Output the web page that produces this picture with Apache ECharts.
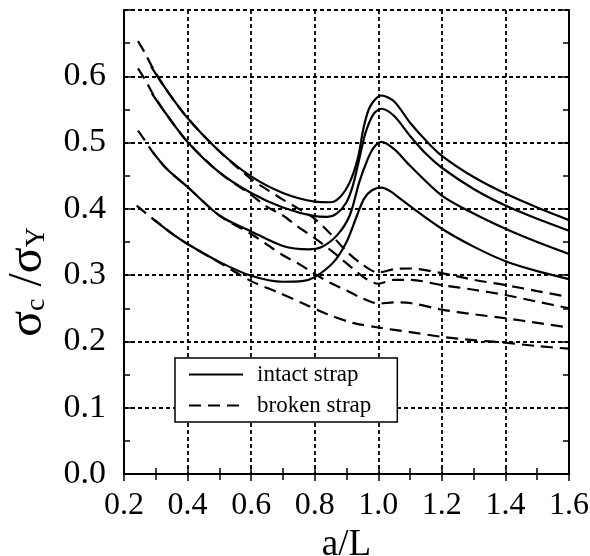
<!DOCTYPE html>
<html><head><meta charset="utf-8">
<script src="https://cdn.jsdelivr.net/npm/echarts@6/dist/echarts.min.js"></script>
<style>html,body{margin:0;padding:0;background:#fff}#c{width:590px;height:556px}</style>
</head><body><div id="c"></div>
<script>
const seriesNames = ['intact strap', 'broken strap'];
const xTickLabels = ['0.2', '0.4', '0.6', '0.8', '1.0', '1.2', '1.4', '1.6'];
const yTickLabels = ['0.0', '0.1', '0.2', '0.3', '0.4', '0.5', '0.6', ''];

// intact strap (solid)
const intact1 = [[0.285,0.615],[0.33,0.582],[0.4,0.537],[0.5,0.487],[0.6,0.449],[0.7,0.424],[0.8,0.411],[0.85,0.41],[0.88,0.418],[0.91,0.44],[0.935,0.475],[0.955,0.525],[0.975,0.555],[1.01,0.571],[1.05,0.562],[1.1,0.53],[1.15,0.503],[1.2,0.48],[1.3,0.448],[1.4,0.423],[1.5,0.402],[1.6,0.383]];
const intact2 = [[0.288,0.574],[0.33,0.545],[0.4,0.501],[0.5,0.455],[0.6,0.424],[0.7,0.402],[0.8,0.389],[0.84,0.388],[0.87,0.393],[0.9,0.41],[0.92,0.435],[0.94,0.475],[0.96,0.515],[0.985,0.543],[1.01,0.551],[1.05,0.54],[1.1,0.51],[1.15,0.483],[1.2,0.462],[1.3,0.43],[1.4,0.405],[1.5,0.385],[1.6,0.367]];
const intact3 = [[0.29,0.486],[0.335,0.46],[0.4,0.433],[0.5,0.39],[0.6,0.366],[0.7,0.344],[0.78,0.339],[0.82,0.342],[0.87,0.36],[0.91,0.39],[0.94,0.44],[0.965,0.473],[0.985,0.492],[1.01,0.501],[1.05,0.49],[1.1,0.465],[1.2,0.42],[1.3,0.393],[1.4,0.37],[1.5,0.35],[1.6,0.332]];
const intact4 = [[0.291,0.385],[0.35,0.363],[0.4,0.347],[0.5,0.32],[0.6,0.299],[0.7,0.29],[0.76,0.291],[0.8,0.297],[0.86,0.32],[0.9,0.35],[0.933,0.39],[0.955,0.415],[0.98,0.428],[1.01,0.432],[1.04,0.426],[1.07,0.415],[1.1,0.404],[1.2,0.37],[1.3,0.343],[1.4,0.321],[1.5,0.306],[1.6,0.294]];

// broken strap (dashed)
const broken1 = [[0.244,0.653],[0.266,0.635],[0.29,0.613],[0.33,0.582],[0.4,0.537],[0.5,0.487],[0.6,0.445],[0.65,0.429],[0.7,0.414],[0.75,0.4],[0.8,0.385],[0.85,0.362],[0.9,0.336],[0.95,0.316],[1.0,0.304],[1.05,0.309],[1.1,0.31],[1.2,0.303],[1.3,0.293],[1.4,0.285],[1.5,0.276],[1.6,0.267]];
const broken2 = [[0.244,0.612],[0.27,0.592],[0.29,0.574],[0.33,0.545],[0.4,0.501],[0.5,0.455],[0.6,0.421],[0.65,0.403],[0.7,0.39],[0.75,0.372],[0.8,0.356],[0.865,0.332],[0.92,0.31],[0.96,0.295],[1.0,0.287],[1.05,0.293],[1.1,0.293],[1.2,0.285],[1.3,0.278],[1.4,0.27],[1.5,0.26],[1.6,0.25]];
const broken3 = [[0.244,0.518],[0.266,0.503],[0.29,0.486],[0.335,0.46],[0.4,0.433],[0.5,0.39],[0.6,0.362],[0.65,0.346],[0.7,0.33],[0.75,0.317],[0.8,0.302],[0.85,0.288],[0.9,0.277],[0.95,0.265],[1.0,0.257],[1.05,0.259],[1.1,0.258],[1.2,0.248],[1.3,0.241],[1.4,0.235],[1.5,0.228],[1.6,0.221]];
const broken4 = [[0.24,0.405],[0.27,0.393],[0.291,0.385],[0.35,0.363],[0.4,0.347],[0.5,0.319],[0.6,0.291],[0.68,0.275],[0.76,0.258],[0.84,0.241],[0.92,0.228],[1.0,0.221],[1.1,0.214],[1.2,0.207],[1.3,0.202],[1.4,0.198],[1.5,0.193],[1.6,0.189]];

const FONT = 'Liberation Serif';
const frame = {show: true, lineStyle: {color: '#000', width: 2}};
const tick = {show: true, inside: true, length: 7, lineStyle: {color: '#000', width: 1.5}};
const minor = {show: true, splitNumber: 2, length: 6, lineStyle: {color: '#000', width: 1.5}};
const grid = {show: true, lineStyle: {color: '#000', width: 1.8, type: [4, 3]}};

function mk(name, data, dashed) {
  return {
    name: name, type: 'line', data: data, smooth: 0.3,
    symbol: 'none', showSymbol: false,
    lineStyle: {color: '#000', width: 2.2, type: dashed ? [12, 7] : 'solid'},
    itemStyle: {color: '#000'}
  };
}

const chart = echarts.init(document.getElementById('c'));
chart.setOption({
  animation: false,
  backgroundColor: '#fff',
  grid: {left: 124, right: 21, top: 10, bottom: 82, containLabel: false, outerBoundsMode: 'none'},
  legend: {
    data: seriesNames, orient: 'vertical', left: 175, top: 358,
    itemWidth: 54, itemHeight: 20, itemGap: 8,
    padding: [5, 26, 5, 13],
    backgroundColor: '#fff', borderColor: '#000', borderWidth: 1.5, borderRadius: 0,
    itemStyle: {opacity: 0},
    textStyle: {fontFamily: FONT, fontSize: 23, color: '#000', padding: [0, 0, 0, 9]}
  },
  xAxis: [{
    type: 'value', min: 0.2, max: 1.6, interval: 0.2, position: 'bottom',
    axisLine: frame, axisTick: tick, minorTick: minor, splitLine: grid,
    axisLabel: {
      fontFamily: FONT, fontSize: 32, color: '#000', margin: 16,
      formatter: v => xTickLabels[Math.round((v - 0.2) / 0.2)]
    },
    name: 'a/L', nameLocation: 'middle', nameGap: 53,
    nameTextStyle: {fontFamily: FONT, fontSize: 37, color: '#000'}
  }, {
    type: 'value', min: 0.2, max: 1.6, interval: 0.2, position: 'top',
    axisLine: frame, axisTick: tick, minorTick: minor, splitLine: {show: false},
    axisLabel: {show: false}
  }],
  yAxis: [{
    type: 'value', min: 0, max: 0.7, interval: 0.1, position: 'left',
    axisLine: frame, axisTick: tick, minorTick: minor, splitLine: grid,
    axisLabel: {
      fontFamily: FONT, fontSize: 34, color: '#000', margin: 18,
      formatter: v => yTickLabels[Math.round(v / 0.1)]
    },
    name: '{g|σ}{b|c} {g|/σ}{b|Y}', nameLocation: 'middle', nameGap: 62,
    nameTextStyle: {
      fontFamily: FONT, fontSize: 48, color: '#000', padding: [0, 80, 0, 0],
      rich: {
        g: {fontFamily: FONT, fontSize: 48, color: '#000'},
        b: {fontFamily: FONT, fontSize: 28, color: '#000', padding: [17, 0, 0, 0]}
      }
    }
  }, {
    type: 'value', min: 0, max: 0.7, interval: 0.1, position: 'right',
    axisLine: frame, axisTick: tick, minorTick: minor, splitLine: {show: false},
    axisLabel: {show: false}
  }],
  series: [
    mk(seriesNames[0], intact1, false),
    mk(seriesNames[0], intact2, false),
    mk(seriesNames[0], intact3, false),
    mk(seriesNames[0], intact4, false),
    mk(seriesNames[1], broken1, true),
    mk(seriesNames[1], broken2, true),
    mk(seriesNames[1], broken3, true),
    mk(seriesNames[1], broken4, true)
  ]
});
</script></body></html>
